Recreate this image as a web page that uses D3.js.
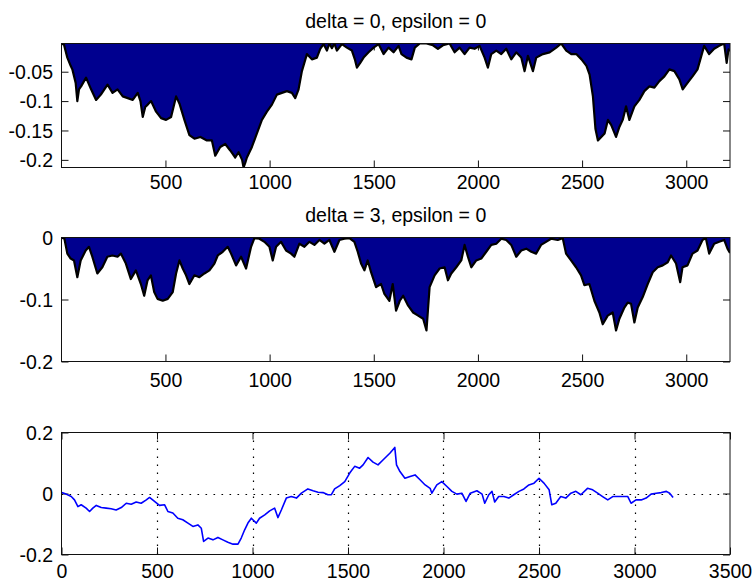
<!DOCTYPE html>
<html>
<head>
<meta charset="utf-8">
<script src="https://cdn.jsdelivr.net/npm/d3@7"></script>
<style>
  html, body { margin: 0; padding: 0; background: #fff; }
  svg { display: block; font-family: "Liberation Sans", Arial, Helvetica, sans-serif; }
</style>
</head>
<body>
<svg id="fig" width="753" height="582"></svg>
<script>
// ---- drawdown, delta = 0, epsilon = 0 ----
const dd0Step = [1,13,29,45,53,69,77,85,95,119,143,167,190,222,246,270,295,319,343,367,380,391,403,415,431,455,479,503,527,551,567,591,615,639,668,699,723,739,763,787,811,835,851,868,875,883,891,915,939,963,987,1011,1035,1059,1083,1107,1123,1139,1155,1179,1203,1227,1243,1259,1275,1287,1299,1311,1323,1347,1371,1395,1410,1419,1435,1451,1475,1499,1523,1547,1571,1595,1619,1633,1657,1681,1697,1721,1753,1784,1808,1832,1864,1888,1912,1936,1960,1984,2008,2032,2048,2064,2088,2112,2136,2160,2184,2208,2224,2240,2264,2280,2312,2344,2376,2400,2424,2448,2472,2497,2521,2536,2552,2564,2576,2592,2608,2624,2640,2663,2679,2695,2711,2727,2751,2775,2799,2823,2847,2871,2895,2919,2943,2967,2983,3006,3030,3054,3070,3086,3110,3134,3158,3182,3194,3203,3210];
const dd0Value = [-0.002,-0.004,-0.026,-0.040,-0.046,-0.069,-0.100,-0.080,-0.075,-0.060,-0.080,-0.098,-0.089,-0.072,-0.086,-0.080,-0.092,-0.095,-0.098,-0.086,-0.100,-0.127,-0.110,-0.106,-0.100,-0.118,-0.129,-0.132,-0.127,-0.092,-0.104,-0.132,-0.158,-0.164,-0.161,-0.167,-0.167,-0.193,-0.178,-0.173,-0.184,-0.196,-0.187,-0.200,-0.213,-0.205,-0.196,-0.178,-0.155,-0.132,-0.118,-0.106,-0.089,-0.086,-0.083,-0.086,-0.095,-0.080,-0.049,-0.020,-0.029,-0.026,-0.011,-0.003,-0.014,-0.002,-0.010,-0.002,-0.014,-0.003,-0.009,-0.014,-0.030,-0.043,-0.035,-0.026,-0.017,-0.009,-0.003,-0.020,-0.009,-0.017,-0.006,-0.020,-0.026,-0.029,-0.009,-0.002,-0.002,-0.005,-0.011,-0.005,-0.002,-0.017,-0.009,-0.020,-0.009,-0.011,-0.006,-0.026,-0.043,-0.020,-0.014,-0.020,-0.011,-0.029,-0.017,-0.026,-0.049,-0.023,-0.049,-0.026,-0.020,-0.017,-0.009,-0.002,-0.014,-0.020,-0.020,-0.029,-0.040,-0.055,-0.092,-0.147,-0.167,-0.161,-0.155,-0.132,-0.141,-0.161,-0.144,-0.132,-0.109,-0.132,-0.109,-0.098,-0.083,-0.075,-0.077,-0.066,-0.058,-0.046,-0.049,-0.063,-0.080,-0.069,-0.058,-0.046,-0.026,-0.006,-0.020,-0.011,-0.006,-0.002,-0.035,-0.012,-0.015];

// ---- drawdown, delta = 3, epsilon = 0 ----
const dd3Step = [1,15,29,45,61,77,93,117,133,149,173,197,221,245,270,286,310,334,358,382,398,414,430,446,462,487,511,535,551,567,583,599,615,639,663,687,711,735,751,775,799,815,839,863,887,911,927,951,975,999,1015,1031,1055,1079,1103,1119,1143,1167,1191,1215,1239,1263,1287,1311,1335,1359,1383,1407,1423,1439,1455,1471,1487,1511,1535,1551,1575,1591,1607,1625,1641,1665,1689,1713,1737,1753,1768,1792,1816,1840,1856,1872,1896,1920,1936,1952,1968,1992,2016,2040,2064,2088,2112,2136,2160,2184,2208,2232,2256,2279,2303,2327,2351,2383,2407,2423,2447,2471,2495,2511,2535,2559,2583,2599,2623,2647,2663,2679,2703,2719,2735,2751,2767,2791,2815,2839,2863,2887,2911,2927,2951,2971,2982,3006,3030,3054,3078,3094,3110,3134,3158,3182,3198,3210];
const dd3Value = [0,-0.002,-0.026,-0.034,-0.037,-0.064,-0.037,-0.021,-0.015,-0.031,-0.058,-0.048,-0.031,-0.029,-0.031,-0.026,-0.042,-0.067,-0.053,-0.075,-0.094,-0.069,-0.061,-0.088,-0.099,-0.102,-0.099,-0.088,-0.058,-0.037,-0.050,-0.061,-0.075,-0.061,-0.064,-0.058,-0.053,-0.042,-0.029,-0.023,-0.015,-0.026,-0.045,-0.031,-0.050,-0.015,-0.001,-0.002,-0.007,-0.015,-0.037,-0.015,-0.007,-0.021,-0.026,-0.031,-0.010,-0.015,-0.007,-0.012,-0.004,-0.010,-0.004,-0.023,-0.004,-0.002,-0.001,-0.007,-0.023,-0.042,-0.053,-0.037,-0.056,-0.080,-0.075,-0.091,-0.102,-0.075,-0.118,-0.102,-0.094,-0.110,-0.121,-0.126,-0.131,-0.150,-0.080,-0.061,-0.050,-0.048,-0.069,-0.058,-0.048,-0.037,-0.012,-0.031,-0.048,-0.037,-0.034,-0.023,-0.012,-0.010,-0.002,-0.004,-0.012,-0.031,-0.021,-0.018,-0.023,-0.026,-0.012,-0.007,-0.002,-0.004,-0.001,-0.026,-0.037,-0.048,-0.061,-0.077,-0.075,-0.102,-0.121,-0.140,-0.126,-0.121,-0.150,-0.131,-0.113,-0.105,-0.107,-0.137,-0.113,-0.096,-0.075,-0.056,-0.048,-0.045,-0.040,-0.029,-0.042,-0.072,-0.048,-0.045,-0.026,-0.021,-0.004,-0.001,-0.026,-0.010,-0.007,-0.004,-0.018,-0.025];

// ---- cumulative series ----
const cumStep = [1,24,51,68,86,103,129,147,164,182,208,234,260,286,313,339,365,391,417,444,461,487,513,540,557,583,609,635,662,688,714,732,744,767,793,819,845,871,898,924,941,959,976,994,1020,1037,1064,1090,1116,1133,1151,1177,1203,1230,1256,1290,1317,1343,1369,1395,1413,1430,1457,1483,1509,1535,1561,1579,1605,1631,1657,1683,1719,1745,1754,1772,1798,1825,1851,1877,1904,1930,1939,1965,1991,2018,2044,2070,2096,2118,2140,2175,2202,2216,2237,2254,2268,2289,2316,2342,2368,2395,2421,2447,2474,2500,2526,2553,2567,2588,2614,2640,2667,2693,2719,2754,2781,2807,2833,2860,2886,2912,2939,2965,2982,3008,3035,3061,3087,3114,3140,3167,3184,3202];
const cumValue = [0.003,-0.002,-0.010,-0.021,-0.043,-0.037,-0.048,-0.059,-0.048,-0.039,-0.046,-0.048,-0.050,-0.054,-0.046,-0.032,-0.035,-0.028,-0.032,-0.021,-0.013,-0.026,-0.039,-0.037,-0.059,-0.064,-0.081,-0.086,-0.097,-0.108,-0.103,-0.114,-0.157,-0.146,-0.152,-0.144,-0.152,-0.160,-0.166,-0.166,-0.146,-0.119,-0.097,-0.081,-0.097,-0.081,-0.070,-0.057,-0.048,-0.079,-0.054,-0.015,-0.010,-0.015,0.001,0.015,0.009,0.004,0.003,-0.004,-0.004,0.015,0.026,0.039,0.067,0.089,0.083,0.094,0.118,0.103,0.094,0.110,0.132,0.151,0.094,0.072,0.050,0.056,0.061,0.045,0.028,0.017,0.001,0.028,0.039,0.023,0.007,-0.002,0.001,-0.026,0.001,0.009,-0.002,-0.032,-0.004,0.007,-0.028,-0.010,-0.010,-0.015,-0.004,0.007,0.015,0.028,0.034,0.050,0.034,0.012,-0.037,-0.032,-0.010,-0.015,0.001,0.007,-0.004,0.017,0.012,0.001,-0.010,-0.021,-0.010,-0.010,-0.010,-0.010,-0.032,-0.021,-0.021,-0.015,-0.002,0.001,0.003,0.007,0.001,-0.013];

// ---- tick values and labels ----
const stepTicks = [500, 1000, 1500, 2000, 2500, 3000];
const stepTickLabels = ["500", "1000", "1500", "2000", "2500", "3000"];
const dd0YTicks = [-0.2, -0.15, -0.1, -0.05];
const dd0YTickLabels = ["-0.2", "-0.15", "-0.1", "-0.05"];
const dd3YTicks = [-0.2, -0.1, 0];
const dd3YTickLabels = ["-0.2", "-0.1", "0"];
const cumXTicks = [0, 500, 1000, 1500, 2000, 2500, 3000, 3500];
const cumXTickLabels = ["0", "500", "1000", "1500", "2000", "2500", "3000", "3500"];
const cumYTicks = [-0.2, 0, 0.2];
const cumYTickLabels = ["-0.2", "0", "0.2"];
const titles = ["delta = 0, epsilon = 0", "delta = 3, epsilon = 0"];

// ---- figure layout ----
const svg = d3.select("#fig");
const FONT = 19.5;
const TICK = 7;
const left = 61.5, right = 730;

const zip = (xs, ys) => xs.map((t, i) => ({ t, v: ys[i] }));
const dd0 = zip(dd0Step, dd0Value);
const dd3 = zip(dd3Step, dd3Value);
const cum = zip(cumStep, cumValue);

function styleTicks(sel) {
  sel.select(".domain").remove();
  sel.selectAll(".tick line").attr("stroke", "#111").attr("stroke-width", 1);
  sel.selectAll(".tick text").attr("fill", "#000").attr("font-size", FONT)
    .attr("font-family", '"Liberation Sans", Arial, Helvetica, sans-serif');
}

function axesBox(id, top, bottom, x, y, xt, xtl, yt, ytl, labelGap) {
  const g = svg.append("g").attr("id", id);
  // inward ticks on all four sides, drawn beneath the data
  const ticks = g.append("g").attr("class", "ticks");
  const xb = ticks.append("g").attr("class", "x-bottom").attr("transform", `translate(0,${bottom})`)
    .call(d3.axisBottom(x).tickValues(xt).tickSizeInner(-TICK).tickSizeOuter(0).tickFormat((d, i) => xtl[i]));
  const xtop = ticks.append("g").attr("class", "x-top").attr("transform", `translate(0,${top})`)
    .call(d3.axisTop(x).tickValues(xt).tickSizeInner(-TICK).tickSizeOuter(0).tickFormat(""));
  const yl = ticks.append("g").attr("class", "y-left").attr("transform", `translate(${left},0)`)
    .call(d3.axisLeft(y).tickValues(yt).tickSizeInner(-TICK).tickSizeOuter(0).tickFormat((d, i) => ytl[i]));
  const yr = ticks.append("g").attr("class", "y-right").attr("transform", `translate(${right},0)`)
    .call(d3.axisRight(y).tickValues(yt).tickSizeInner(-TICK).tickSizeOuter(0).tickFormat(""));
  [xb, xtop, yl, yr].forEach(styleTicks);
  // x labels: baseline a fixed distance below the frame
  xb.selectAll(".tick text").attr("y", labelGap).attr("dy", null);
  // y labels: right-aligned, vertically centred on the tick
  yl.selectAll(".tick text").attr("x", -8.5).attr("dy", "0.35em").attr("text-anchor", "end");

  const clipId = id + "-clip";
  svg.append("clipPath").attr("id", clipId).append("rect")
    .attr("x", left).attr("y", top).attr("width", right - left).attr("height", bottom - top);
  const plot = g.append("g").attr("clip-path", `url(#${clipId})`);
  const frame = () => g.append("rect")
    .attr("x", left).attr("y", top).attr("width", right - left).attr("height", bottom - top)
    .attr("fill", "none").attr("stroke", "#111").attr("stroke-width", 1);
  return { g, plot, frame };
}

function drawdownPanel(id, data, top, bottom, yDomain, yt, ytl, title, titleY, labelGap) {
  const x = d3.scaleLinear().domain(d3.extent(data, d => d.t)).range([left, right]);
  const y = d3.scaleLinear().domain(yDomain).range([bottom, top]);
  const ax = axesBox(id, top, bottom, x, y, stepTicks, stepTickLabels, yt, ytl, labelGap);
  ax.plot.append("path").datum(data)
    .attr("fill", "#00008f")
    .attr("d", d3.area().x(d => x(d.t)).y0(y(0)).y1(d => y(d.v)));
  ax.plot.append("path").datum(data)
    .attr("fill", "none").attr("stroke", "#000").attr("stroke-width", 2.2).attr("stroke-linejoin", "round")
    .attr("d", d3.line().x(d => x(d.t)).y(d => y(d.v)));
  ax.frame();
  svg.append("text").attr("x", (left + right) / 2).attr("y", titleY)
    .attr("text-anchor", "middle").attr("font-size", FONT).attr("fill", "#000").text(title);
}

// panel 1: tight limits taken from the data
drawdownPanel("dd0", dd0, 43.5, 167.5, d3.extent(dd0, d => d.v), dd0YTicks, dd0YTickLabels, titles[0], 28, 21);
// panel 2: fixed limits [-0.2, 0]
drawdownPanel("dd3", dd3, 237.5, 361.5, [-0.2, 0], dd3YTicks, dd3YTickLabels, titles[1], 221.5, 25);

// panel 3: cumulative line with dotted grid
(function () {
  const top = 432.5, bottom = 554.5;
  const x = d3.scaleLinear().domain([0, 3500]).range([left, right]);
  const y = d3.scaleLinear().domain([-0.2, 0.2]).range([bottom, top]);
  const ax = axesBox("cum", top, bottom, x, y, cumXTicks, cumXTickLabels, cumYTicks, cumYTickLabels, 23);
  const grid = ax.g.insert("g", ":first-child").attr("class", "grid")
    .attr("stroke", "#000").attr("stroke-width", 1.2).attr("stroke-dasharray", "1.6,6.4");
  grid.selectAll("line.gx").data(cumXTicks.filter(t => t > 0 && t < 3500)).join("line")
    .attr("class", "gx")
    .attr("x1", d => Math.round(x(d)) + 0.5).attr("x2", d => Math.round(x(d)) + 0.5)
    .attr("y1", top).attr("y2", bottom);
  grid.selectAll("line.gy").data(cumYTicks.filter(v => v > -0.2 && v < 0.2)).join("line")
    .attr("class", "gy")
    .attr("x1", left).attr("x2", right)
    .attr("y1", d => Math.round(y(d)) + 0.5).attr("y2", d => Math.round(y(d)) + 0.5);
  ax.plot.append("path").datum(cum)
    .attr("fill", "none").attr("stroke", "#0000ff").attr("stroke-width", 1.6).attr("stroke-linejoin", "round")
    .attr("d", d3.line().x(d => x(d.t)).y(d => y(d.v)));
  ax.frame();
})();
</script>
</body>
</html>
